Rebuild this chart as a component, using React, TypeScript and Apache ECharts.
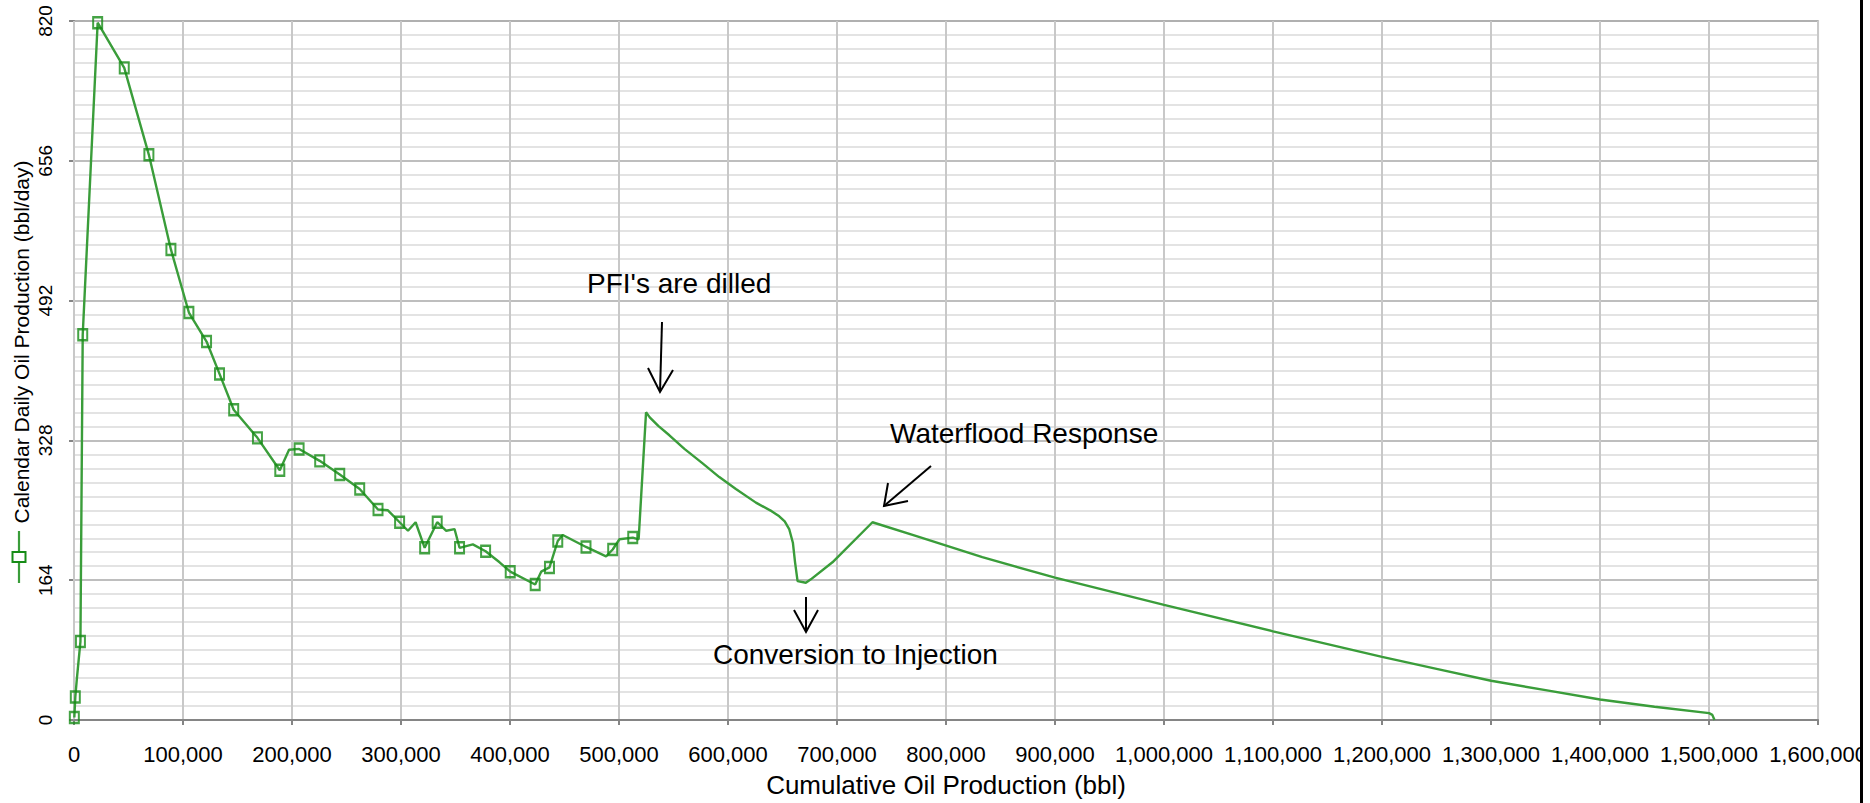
import React, { useEffect, useRef } from "react";
import * as echarts from "echarts";

// ---- data ----
const lineCum = [
  300, 1200, 2600, 5900, 8000, 21700, 46100, 68700, 88900, 105400, 121600, 133500, 146500,
  168300, 188800, 197300, 206500, 225400, 243800, 262100, 278900, 288000, 298700, 306400,
  313400, 321700, 333200, 341500, 349100, 353700, 365900, 377600, 390400, 400200, 423100,
  428600, 436200, 443800, 448400, 469700, 488100, 494200, 500400, 512600, 518000, 524800,
  528200, 536000, 546200, 560000, 576700, 592000, 607200, 625600, 640000, 647000, 652000,
  656100, 659500, 661500, 663800, 671400, 676000, 695800, 732500, 772200, 833300, 900000,
  1000000, 1100000, 1200000, 1250000, 1300000, 1350000, 1400000, 1450000, 1500000, 1503000,
  1505000,
];
const lineRate = [
  3, 27, 48, 92, 452, 818, 765, 663, 552, 478, 444, 406, 364,
  331, 293, 317, 318, 304, 288, 271, 247, 246, 232, 222,
  232, 202, 232, 222, 224, 202, 206, 198, 185, 174, 159,
  174, 179, 210, 217, 203, 192, 200, 212, 214, 212, 361,
  355, 345, 334, 318, 301, 285, 271, 255, 245, 239, 233,
  224, 208, 185, 163, 161, 165, 185, 232, 216, 191, 167,
  135, 104, 74, 60, 46, 35, 24, 15.5, 8, 6,
  0,
];
const markerCum = [
  300, 1200, 5900, 8000, 21700, 46100, 68700, 88900, 105400, 121600, 133500, 146500, 168300,
  188800, 206500, 225400, 243800, 262100, 278900, 298700, 321700, 333200, 353700, 377600,
  400200, 423100, 436200, 443800, 469700, 494200, 512600,
];
const markerRate = [
  3, 27, 92, 452, 818, 765, 663, 552, 478, 444, 406, 364, 331,
  293, 318, 304, 288, 271, 247, 232, 202, 232, 202, 198,
  174, 159, 179, 210, 203, 200, 214,
];
const yTicks = [0, 164, 328, 492, 656, 820];
const xTicks = [
  0, 100000, 200000, 300000, 400000, 500000, 600000, 700000, 800000, 900000, 1000000,
  1100000, 1200000, 1300000, 1400000, 1500000, 1600000,
];

const seriesName = "Calendar Daily Oil Production (bbl/day)";
const xName = "Cumulative Oil Production (bbl)";
const FONT = '"Liberation Sans", Arial, sans-serif';
const LINE_GREEN = "#3a9d3a";
const MARK_GREEN = "#178c17";

export default function App() {
  const ref = useRef<HTMLDivElement>(null);

  useEffect(() => {
    if (!ref.current) return;
    const chart = echarts.init(ref.current, undefined, { renderer: "svg" });

    const lineData = lineCum.map((c, i) => [c, lineRate[i]]);
    const markData = markerCum.map((c, i) => [c, markerRate[i]]);

    const arrowStyle = { stroke: "#000", lineWidth: 2, fill: null };
    const annText = (text: string, x: number, y: number) => ({
      type: "text",
      z: 100,
      x,
      y,
      style: {
        text,
        fill: "#000",
        fontSize: 28,
        fontFamily: FONT,
        textAlign: "left",
        textVerticalAlign: "middle",
      },
    });

    chart.setOption({
      animation: false,
      backgroundColor: "#ffffff",
      textStyle: { fontFamily: FONT },
      grid: {
        left: 74,
        right: 50,
        top: 21,
        bottom: 82,
        show: true,
        borderColor: "#c8c8c8",
        borderWidth: 2,
        backgroundColor: "transparent",
      },
      xAxis: {
        type: "value",
        min: xTicks[0],
        max: xTicks[xTicks.length - 1],
        interval: xTicks[1] - xTicks[0],
        offset: 12,
        z: 1,
        name: xName,
        nameLocation: "middle",
        nameGap: 40,
        nameTextStyle: { color: "#000", fontSize: 26, fontFamily: FONT },
        axisLine: { show: true, lineStyle: { color: "#858585", width: 2 } },
        axisTick: { show: true, length: 5, lineStyle: { color: "#858585", width: 2 } },
        axisLabel: {
          color: "#000",
          fontSize: 22,
          margin: 11,
          formatter: (v: number) => v.toLocaleString("en-US"),
        },
        splitLine: { show: true, lineStyle: { color: "#c8c8c8", width: 2 } },
      },
      yAxis: {
        type: "value",
        min: yTicks[0],
        max: yTicks[yTicks.length - 1],
        interval: yTicks[1] - yTicks[0],
        offset: 9,
        z: 0,
        axisLine: { show: true, lineStyle: { color: "#858585", width: 2 } },
        axisTick: { show: true, length: 5, lineStyle: { color: "#858585", width: 2 } },
        axisLabel: { color: "#000", fontSize: 19, rotate: 90, margin: 10 },
        splitLine: { show: true, lineStyle: { color: "#a9a9a9", width: 1.5 } },
        minorTick: { show: false, splitNumber: 10 },
        minorSplitLine: { show: true, lineStyle: { color: "#e3e3e3", width: 2 } },
      },
      series: [
        {
          name: seriesName,
          type: "line",
          data: lineData,
          symbol: "none",
          z: 3,
          lineStyle: { color: LINE_GREEN, width: 2.4 },
          itemStyle: { color: LINE_GREEN },
        },
        {
          name: seriesName,
          type: "scatter",
          data: markData,
          symbol: "rect",
          symbolSize: [9, 11],
          z: 4,
          itemStyle: { color: "rgba(255,255,255,0)", borderColor: MARK_GREEN, borderWidth: 2.2 },
        },
      ],
      graphic: [
        // y axis title with legend symbol (rotated)
        {
          type: "text",
          z: 100,
          x: 21,
          y: 342,
          rotation: Math.PI / 2,
          style: {
            text: seriesName,
            fill: "#000",
            fontSize: 21,
            fontFamily: FONT,
            textAlign: "center",
            textVerticalAlign: "middle",
          },
        },
        {
          type: "line",
          z: 100,
          shape: { x1: 19, y1: 531, x2: 19, y2: 583 },
          style: { stroke: LINE_GREEN, lineWidth: 2.2 },
        },
        {
          type: "rect",
          z: 101,
          shape: { x: 12.5, y: 552, width: 13, height: 10 },
          style: { stroke: MARK_GREEN, lineWidth: 2, fill: "#fff" },
        },
        // annotations
        annText("PFI's are dilled", 587, 283),
        {
          type: "line",
          z: 100,
          shape: { x1: 662, y1: 322, x2: 660, y2: 392 },
          style: arrowStyle,
        },
        {
          type: "polyline",
          z: 100,
          shape: { points: [[648, 368], [660, 392], [673, 370]] },
          style: arrowStyle,
        },
        annText("Conversion to Injection", 713, 654),
        {
          type: "line",
          z: 100,
          shape: { x1: 806, y1: 597, x2: 806, y2: 632 },
          style: arrowStyle,
        },
        {
          type: "polyline",
          z: 100,
          shape: { points: [[794, 610], [806, 632], [818, 610]] },
          style: arrowStyle,
        },
        annText("Waterflood Response", 890, 433),
        {
          type: "line",
          z: 100,
          shape: { x1: 931, y1: 466, x2: 884, y2: 506 },
          style: arrowStyle,
        },
        {
          type: "polyline",
          z: 100,
          shape: { points: [[888, 483], [884, 506], [908, 501]] },
          style: arrowStyle,
        },
        // right border of the picture
        {
          type: "rect",
          z: 110,
          shape: { x: 1860, y: 0, width: 10, height: 803 },
          style: { fill: "#fff" },
        },
        {
          type: "rect",
          z: 111,
          shape: { x: 1860, y: 0, width: 3, height: 803 },
          style: { fill: "#000" },
        },
      ],
    });

    return () => chart.dispose();
  }, []);

  return (
    <div
      ref={ref}
      style={{ position: "absolute", left: 0, top: 0, width: 1870, height: 803 }}
    />
  );
}
